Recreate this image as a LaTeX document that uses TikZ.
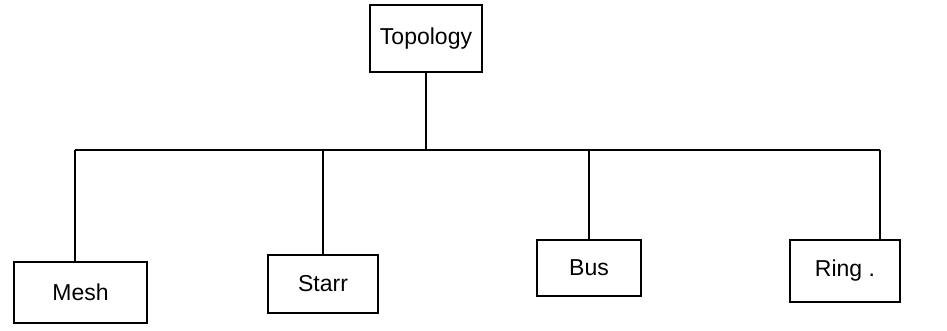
\documentclass[tikz,border=0pt]{standalone}
\usepackage{fontspec}
\setmainfont{Liberation Sans}
\begin{document}
\begin{tikzpicture}[x=1pt,y=-1pt,
  box/.style={draw,line width=1.3pt,rectangle,inner sep=0pt,font=\fontsize{23}{26}\selectfont},
  link/.style={line width=1.3pt}]
\useasboundingbox (0,0) rectangle (947,331);
\node[box,minimum width=112pt,minimum height=67pt] (top) at (426,38.5) {Topology};
\node[box,minimum width=133pt,minimum height=61pt] (mesh) at (80.5,292.5) {Mesh};
\node[box,minimum width=110pt,minimum height=58pt] (star) at (323,284) {Starr};
\node[box,minimum width=104pt,minimum height=56pt] (bus) at (589,268) {Bus};
\node[box,minimum width=110pt,minimum height=62pt] (ring) at (845,271) {Ring .};
\coordinate (j) at (top.south |- 0,150);
\coordinate (l) at (75,150);
\coordinate (r) at (880,150);
\draw[link] (top.south) -- (j);
\draw[link] (l) -- (r);
\draw[link] (l) -- (l |- mesh.north);
\draw[link] (star.north |- l) -- (star.north);
\draw[link] (bus.north |- l) -- (bus.north);
\draw[link] (r) -- (r |- ring.north);
\end{tikzpicture}
\end{document}
